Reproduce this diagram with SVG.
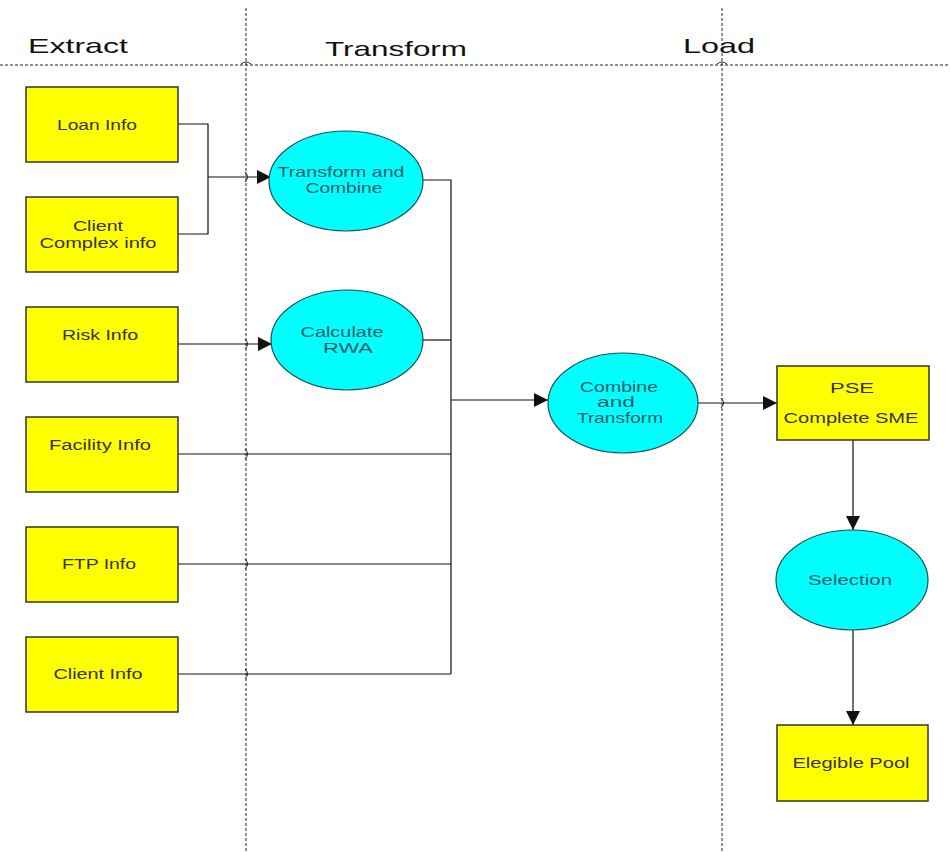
<svg xmlns="http://www.w3.org/2000/svg" width="950" height="852" viewBox="0 0 950 852">
<defs>
<style>
.lane{stroke:#222;stroke-width:1;stroke-dasharray:3,2;fill:none}
.hdr{font-family:"Liberation Sans",Arial,sans-serif;font-size:21px;fill:#111}
.box{fill:#ffff00;stroke:#333;stroke-width:1.5}
.ell{fill:#00ffff;stroke:#1d4d55;stroke-width:1.2}
.bt{font-family:"Liberation Sans",Arial,sans-serif;font-size:14px;fill:#333;text-anchor:middle}
.et{font-family:"Liberation Sans",Arial,sans-serif;font-size:14px;fill:#1f5c66;text-anchor:middle}
.c{stroke:#111;stroke-width:1.2;fill:none}
.hop{stroke:#222;stroke-width:1;fill:none}
</style>
<marker id="arr" viewBox="0 0 10 10" refX="10" refY="5" markerWidth="18" markerHeight="14" markerUnits="userSpaceOnUse" orient="auto">
<path d="M0,0 L10,5 L0,10 z" fill="#111"/>
</marker>
</defs>
<rect width="950" height="852" fill="#fff"/>
<g id="lanes">
<line class="lane" x1="0" y1="65" x2="950" y2="65"/>
<line class="lane" x1="246" y1="8" x2="246" y2="852"/>
<line class="lane" x1="722" y1="8" x2="722" y2="852"/>
<path class="hop" d="M241,64 q5,-4 10,0"/>
<path class="hop" d="M717,64 q5,-4 10,0"/>
<path class="hop" d="M245,172 q5,5 0,10"/>
<path class="hop" d="M245,339 q5,5 0,10"/>
<path class="hop" d="M245,449 q5,5 0,10"/>
<path class="hop" d="M245,559 q5,5 0,10"/>
<path class="hop" d="M245,669 q5,5 0,10"/>
<path class="hop" d="M721,398 q5,5 0,10"/>
<text class="hdr" x="28" y="53" textLength="100" lengthAdjust="spacingAndGlyphs">Extract</text>
<text class="hdr" x="325" y="56" textLength="142" lengthAdjust="spacingAndGlyphs">Transform</text>
<text class="hdr" x="683" y="53" textLength="72" lengthAdjust="spacingAndGlyphs">Load</text>
</g>
<g id="connectors">
<polyline class="c" points="178,124 208,124 208,234 178,234"/>
<line class="c" x1="208" y1="177" x2="271" y2="177" marker-end="url(#arr)"/>
<line class="c" x1="178" y1="344" x2="272" y2="344" marker-end="url(#arr)"/>
<polyline class="c" points="423,180 451,180 451,674"/>
<line class="c" x1="423" y1="340" x2="451" y2="340"/>
<line class="c" x1="178" y1="454" x2="451" y2="454"/>
<line class="c" x1="178" y1="564" x2="451" y2="564"/>
<line class="c" x1="178" y1="674" x2="451" y2="674"/>
<line class="c" x1="451" y1="400" x2="548" y2="400" marker-end="url(#arr)"/>
<line class="c" x1="698" y1="403" x2="777" y2="403" marker-end="url(#arr)"/>
<line class="c" x1="853" y1="440" x2="853" y2="530" marker-end="url(#arr)"/>
<line class="c" x1="853" y1="630" x2="853" y2="725" marker-end="url(#arr)"/>
</g>
<g id="loan"><rect class="box" x="26" y="87" width="152" height="75"/><text class="bt" x="97" y="130" textLength="80" lengthAdjust="spacingAndGlyphs">Loan Info</text></g>
<g id="clientcomplex"><rect class="box" x="26" y="197" width="152" height="75"/><text class="bt" x="98" y="231" textLength="50" lengthAdjust="spacingAndGlyphs">Client</text><text class="bt" x="98" y="248" textLength="117" lengthAdjust="spacingAndGlyphs">Complex info</text></g>
<g id="risk"><rect class="box" x="26" y="307" width="152" height="75"/><text class="bt" x="100" y="340" textLength="76" lengthAdjust="spacingAndGlyphs">Risk Info</text></g>
<g id="facility"><rect class="box" x="26" y="417" width="152" height="75"/><text class="bt" x="100" y="450" textLength="102" lengthAdjust="spacingAndGlyphs">Facility Info</text></g>
<g id="ftp"><rect class="box" x="26" y="527" width="152" height="75"/><text class="bt" x="99" y="569" textLength="74" lengthAdjust="spacingAndGlyphs">FTP Info</text></g>
<g id="clientinfo"><rect class="box" x="26" y="637" width="152" height="75"/><text class="bt" x="98" y="679" textLength="89" lengthAdjust="spacingAndGlyphs">Client Info</text></g>
<g id="transformcombine"><ellipse class="ell" cx="346" cy="181" rx="77" ry="50"/><text class="et" x="341" y="177" textLength="127" lengthAdjust="spacingAndGlyphs">Transform and</text><text class="et" x="344" y="193" textLength="77" lengthAdjust="spacingAndGlyphs">Combine</text></g>
<g id="rwa"><ellipse class="ell" cx="347" cy="340" rx="76" ry="50"/><text class="et" x="342" y="337" textLength="83" lengthAdjust="spacingAndGlyphs">Calculate</text><text class="et" x="348" y="353" textLength="50" lengthAdjust="spacingAndGlyphs">RWA</text></g>
<g id="combinetransform"><ellipse class="ell" cx="623" cy="403" rx="75" ry="50"/><text class="et" x="619" y="392" textLength="78" lengthAdjust="spacingAndGlyphs">Combine</text><text class="et" x="616" y="407" textLength="38" lengthAdjust="spacingAndGlyphs">and</text><text class="et" x="620" y="423" textLength="86" lengthAdjust="spacingAndGlyphs">Transform</text></g>
<g id="pse"><rect class="box" x="777" y="366" width="152" height="74"/><text class="bt" x="852" y="393" textLength="44" lengthAdjust="spacingAndGlyphs">PSE</text><text class="bt" x="851" y="423" textLength="135" lengthAdjust="spacingAndGlyphs">Complete SME</text></g>
<g id="selection"><ellipse class="ell" cx="852" cy="580" rx="76" ry="50"/><text class="et" x="850" y="585" textLength="84" lengthAdjust="spacingAndGlyphs">Selection</text></g>
<g id="pool"><rect class="box" x="777" y="725" width="151" height="76"/><text class="bt" x="851" y="768" textLength="117" lengthAdjust="spacingAndGlyphs">Elegible Pool</text></g>
</svg>
